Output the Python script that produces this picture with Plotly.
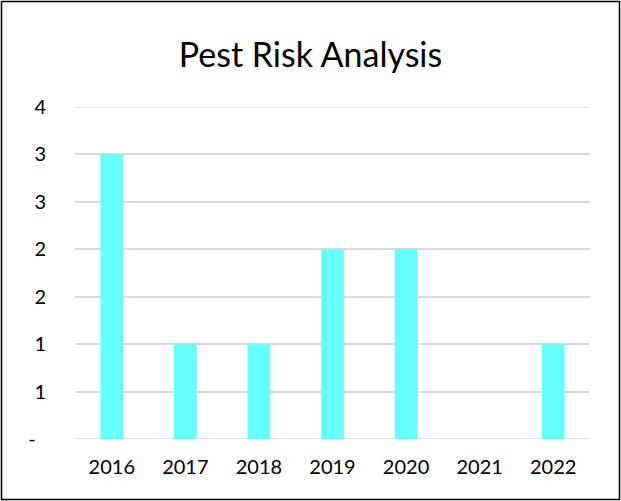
import plotly.graph_objects as go

years = ["2016", "2017", "2018", "2019", "2020", "2021", "2022"]
counts = [3, 1, 1, 2, 2, 0, 1]
y_tickvals = [0, 0.5, 1, 1.5, 2, 2.5, 3, 3.5]
y_ticktext = ["-\u00a0\u00a0", "1", "1", "2", "2", "3", "3", "4"]

fig = go.Figure(go.Bar(x=years, y=counts, marker=dict(color="#66FFFF", line=dict(width=0))))

W, H = 621, 501
l, r, t, b = 75, 31, 107, 62
pw, ph = W - l - r, H - t - b

def px(x):
    return (x - l) / pw

def py(y):
    return (H - b - y) / ph

grid_lines = [
    dict(type="line", xref="paper", yref="y", x0=0, x1=1, y0=0, y1=0,
         line=dict(color="#D9D9D9", width=1.5), layer="below"),
    dict(type="line", xref="paper", yref="y", x0=0, x1=1,
         y0=y_tickvals[-1], y1=y_tickvals[-1],
         line=dict(color="#D9D9D9", width=1.5), layer="above"),
]

fig.update_layout(
    width=W, height=H,
    margin=dict(l=l, r=r, t=t, b=b),
    paper_bgcolor="white", plot_bgcolor="white",
    font=dict(family="Lato", color="#000000", size=20),
    title=dict(text="Pest Risk Analysis", x=0.5, xanchor="center",
               y=1 - 55 / H, yanchor="middle", font=dict(size=34)),
    bargap=0.69,
    showlegend=False,
    xaxis=dict(type="category", showgrid=False, showline=False, zeroline=False,
               ticks="", ticklabelstandoff=14),
    yaxis=dict(range=[0, 3.5], tickvals=y_tickvals, ticktext=y_ticktext,
               showgrid=True, gridcolor="#D9D9D9", gridwidth=1.5,
               zeroline=False, showline=False, ticks="", ticklabelstandoff=28),
    shapes=grid_lines + [
        dict(type="rect", xref="paper", yref="paper",
             x0=px(1.5), x1=px(619.5), y0=py(1.5), y1=py(499.5),
             line=dict(color="#000000", width=1.5), fillcolor="rgba(0,0,0,0)"),
    ],
)

fig.write_html("out.html")
